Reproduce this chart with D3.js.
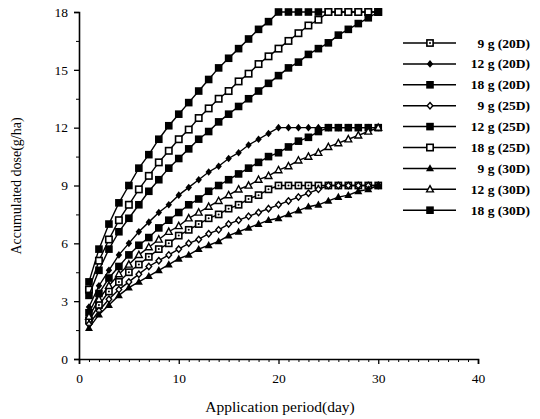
<!DOCTYPE html>
<html><head><meta charset="utf-8">
<script src="https://cdn.jsdelivr.net/npm/d3@7"></script>
<style>body{margin:0;background:#fff}svg{display:block}text{font-family:"Liberation Serif","Times New Roman",serif;fill:#000}</style>
</head><body><svg id="c" width="540" height="419"></svg>
<script>
const days = d3.range(1, 31);
const s9_20  = [2.0,2.8,3.5,4.0,4.5,4.9,5.3,5.7,6.0,6.4,6.7,7.0,7.3,7.5,7.8,8.0,8.3,8.5,8.8,9.0,9,9,9,9,9,9,9,9,9,9];
const s12_20 = [2.7,3.8,4.6,5.4,6.0,6.6,7.1,7.6,8.0,8.5,8.9,9.3,9.7,10.0,10.4,10.7,11.1,11.4,11.7,12.0,12,12,12,12,12,12,12,12,12,12];
const s18_20 = [4.0,5.7,7.0,8.1,9.0,9.9,10.6,11.4,12.1,12.7,13.3,13.9,14.5,15.1,15.6,16.1,16.6,17.1,17.5,18.0,18,18,18,18,18,18,18,18,18,18];
const s9_25  = [1.8,2.5,3.1,3.6,4.0,4.4,4.8,5.1,5.4,5.7,6.0,6.2,6.5,6.7,7.0,7.2,7.4,7.6,7.8,8.0,8.2,8.4,8.6,8.8,9.0,9,9,9,9,9];
const s12_25 = [2.4,3.4,4.2,4.8,5.4,5.9,6.3,6.8,7.2,7.6,8.0,8.3,8.7,9.0,9.3,9.6,9.9,10.2,10.5,10.7,11.0,11.3,11.5,11.8,12.0,12,12,12,12,12];
const s18_25 = [3.6,5.1,6.2,7.2,8.0,8.8,9.5,10.2,10.8,11.4,11.9,12.5,13.0,13.5,13.9,14.4,14.8,15.3,15.7,16.1,16.5,16.9,17.3,17.6,18.0,18,18,18,18,18];
const s9_30  = [1.6,2.3,2.8,3.3,3.7,4.0,4.3,4.6,4.9,5.2,5.4,5.7,5.9,6.1,6.4,6.6,6.8,7.0,7.2,7.3,7.5,7.7,7.9,8.0,8.2,8.4,8.5,8.7,8.8,9.0];
const s12_30 = [2.2,3.1,3.8,4.4,4.9,5.4,5.8,6.2,6.6,6.9,7.3,7.6,7.9,8.2,8.5,8.8,9.0,9.3,9.5,9.8,10.0,10.3,10.5,10.7,11.0,11.2,11.4,11.6,11.8,12.0];
const s18_30 = [3.3,4.6,5.7,6.6,7.3,8.0,8.7,9.3,9.9,10.4,10.9,11.4,11.8,12.3,12.7,13.1,13.5,13.9,14.3,14.7,15.1,15.4,15.8,16.1,16.4,16.8,17.1,17.4,17.7,18.0];
const seriesNames = ["9 g (20D)","12 g (20D)","18 g (20D)","9 g (25D)","12 g (25D)","18 g (25D)","9 g (30D)","12 g (30D)","18 g (30D)"];
const seriesValues = [s9_20, s12_20, s18_20, s9_25, s12_25, s18_25, s9_30, s12_30, s18_30];
const seriesMarkers = ["sqdot","diamondF","squareF","diamondO","squareF","squareO","triF","triO","squareF"];
const xTicks = [0,10,20,30,40];
const yTicks = [0,3,6,9,12,15,18];
const xTitle = "Application period(day)";
const yTitle = "Accumulated dose(g/ha)";

const svg = d3.select("#c");
const x = d3.scaleLinear().domain([0,40]).range([79,478]);
const y = d3.scaleLinear().domain([0,18]).range([359,12]);

// axes
const xAxis = d3.axisBottom(x).tickValues(xTicks).tickSize(5).tickPadding(9);
const gx = svg.append("g").attr("transform",`translate(0,${y(0)})`).call(xAxis);
gx.select(".domain").attr("stroke","#000").attr("stroke-width",1.6);
gx.selectAll(".tick text").attr("font-size",13.5);
gx.selectAll(".tick line").attr("stroke-width",1.3);
svg.append("g").attr("transform",`translate(0,${y(0)})`)
  .call(d3.axisBottom(x).tickValues(d3.range(1,40).filter(d=>d%10)).tickSize(3).tickFormat(""))
  .call(g=>g.select(".domain").remove()).selectAll("line").attr("stroke-width",1);

const yAxis = d3.axisLeft(y).tickValues(yTicks).tickSize(5).tickPadding(6);
const gy = svg.append("g").attr("transform",`translate(${x(0)},0)`).call(yAxis);
gy.select(".domain").attr("stroke","#000").attr("stroke-width",1.6);
gy.selectAll(".tick text").attr("font-size",13.5);
gy.selectAll(".tick line").attr("stroke-width",1.3);
svg.append("g").attr("transform",`translate(${x(0)},0)`)
  .call(d3.axisLeft(y).tickValues(d3.range(1.5,18,3)).tickSize(3).tickFormat(""))
  .call(g=>g.select(".domain").remove()).selectAll("line").attr("stroke-width",1);

svg.append("text").attr("x",280).attr("y",412).attr("text-anchor","middle").attr("font-size",15.5).text(xTitle);
svg.append("text").attr("transform","translate(21,186) rotate(-90)").attr("text-anchor","middle").attr("font-size",14).text(yTitle);

function marker(g, type, cx, cy){
  const sw = 1.4;
  if(type==="squareF"){
    g.append("rect").attr("x",cx-3.8).attr("y",cy-3.8).attr("width",7.6).attr("height",7.6).attr("fill","#000");
  } else if(type==="squareO"){
    g.append("rect").attr("x",cx-3.2).attr("y",cy-3.2).attr("width",6.4).attr("height",6.4).attr("fill","#fff").attr("stroke","#000").attr("stroke-width",sw+0.2);
  } else if(type==="sqdot"){
    g.append("rect").attr("x",cx-3.1).attr("y",cy-3.1).attr("width",6.2).attr("height",6.2).attr("fill","#fff").attr("stroke","#000").attr("stroke-width",sw+0.2);
    g.append("circle").attr("cx",cx).attr("cy",cy).attr("r",1).attr("fill","#000");
  } else if(type==="diamondF"){
    g.append("path").attr("d",`M${cx},${cy-3.8}L${cx+3.2},${cy}L${cx},${cy+3.8}L${cx-3.2},${cy}Z`).attr("fill","#000");
  } else if(type==="diamondO"){
    g.append("path").attr("d",`M${cx},${cy-3.2}L${cx+2.8},${cy}L${cx},${cy+3.2}L${cx-2.8},${cy}Z`).attr("fill","#fff").attr("stroke","#000").attr("stroke-width",sw);
  } else if(type==="triF"){
    g.append("path").attr("d",`M${cx},${cy-4.2}L${cx+4},${cy+2.9}L${cx-4},${cy+2.9}Z`).attr("fill","#000");
  } else if(type==="triO"){
    g.append("path").attr("d",`M${cx},${cy-3.7}L${cx+3.4},${cy+2.6}L${cx-3.4},${cy+2.6}Z`).attr("fill","#fff").attr("stroke","#000").attr("stroke-width",sw);
  }
}

const line = d3.line().x((d,i)=>x(days[i])).y(d=>y(d));
seriesValues.forEach((vals,si)=>{
  const g = svg.append("g");
  g.append("path").attr("d",line(vals)).attr("fill","none").attr("stroke","#000").attr("stroke-width",1.4);
  vals.forEach((v,i)=>marker(g, seriesMarkers[si], x(days[i]), y(v)));
});

// legend
const lg = svg.append("g");
seriesNames.forEach((n,i)=>{
  const ly = 43 + i*20.9;
  lg.append("line").attr("x1",403).attr("x2",456).attr("y1",ly).attr("y2",ly).attr("stroke","#000").attr("stroke-width",1.5);
  marker(lg, seriesMarkers[i], 430, ly);
  lg.append("text").attr("x",530).attr("y",ly+4.5).attr("text-anchor","end").attr("font-size",13.5).attr("font-weight","bold").text(n);
});
</script></body></html>
